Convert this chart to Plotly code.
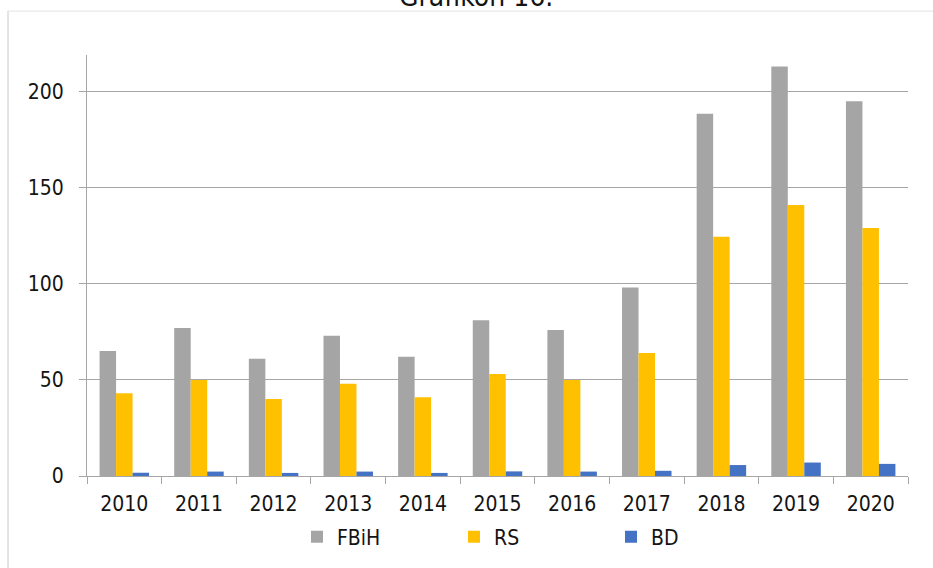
import plotly.graph_objects as go

# Values per year for the three entities
years = ["2010", "2011", "2012", "2013", "2014", "2015", "2016", "2017", "2018", "2019", "2020"]
fbih = [65, 77, 61, 73, 62, 81, 76, 98, 188.5, 213, 195]
rs = [43, 50, 40, 48, 41, 53, 50, 64, 124.5, 141, 129]
bd = [1.7, 2.3, 1.6, 2.3, 1.6, 2.4, 2.3, 2.7, 5.7, 7.0, 6.3]

series_names = ["FBiH", "RS", "BD"]
series_colors = ["#a5a5a5", "#ffc000", "#4472c4"]

W, H = 933, 568
L, R, T, B = 87, 25, 55, 91
PW, PH = W - L - R, H - T - B

FONT = "DejaVu Sans Condensed, DejaVu Sans, sans-serif"
AXIS_GRAY = "#a6a6a6"
TEXT = "#141414"


def px_x(px):
    return (px - L) / PW


def px_y(py):
    return (H - B - py) / PH


fig = go.Figure()
for name, vals, color in zip(series_names, [fbih, rs, bd], series_colors):
    fig.add_trace(go.Bar(x=years, y=vals, name=name, marker=dict(color=color, line=dict(width=0))))

fig.update_layout(
    width=W,
    height=H,
    margin=dict(l=L, r=R, t=T, b=B, pad=0),
    paper_bgcolor="white",
    plot_bgcolor="white",
    barmode="group",
    bargap=0.337,
    bargroupgap=0,
    font=dict(family=FONT, size=21, color=TEXT),
    showlegend=True,
    legend=dict(
        orientation="h",
        x=px_x(297),
        xanchor="left",
        y=px_y(537),
        yanchor="middle",
        entrywidth=112,
        entrywidthmode="pixels",
        font=dict(family=FONT, size=21, color=TEXT),
        bgcolor="rgba(0,0,0,0)",
        traceorder="normal",
    ),
    xaxis=dict(
        type="category",
        showline=True,
        linecolor=AXIS_GRAY,
        linewidth=1,
        ticks="outside",
        tickson="boundaries",
        ticklen=7,
        tickcolor=AXIS_GRAY,
        ticklabelstandoff=9,
        showgrid=False,
        tickfont=dict(family=FONT, size=21, color=TEXT),
    ),
    yaxis=dict(
        range=[0, 219],
        tickvals=[0, 50, 100, 150, 200],
        showline=True,
        linecolor=AXIS_GRAY,
        linewidth=1,
        ticks="outside",
        ticklen=7,
        tickcolor=AXIS_GRAY,
        ticklabelstandoff=11,
        showgrid=True,
        gridcolor=AXIS_GRAY,
        gridwidth=1,
        zeroline=False,
        tickfont=dict(family=FONT, size=21, color=TEXT),
    ),
)

# Outer chart frame (left and top edges)
fig.add_shape(type="line", xref="paper", yref="paper",
              x0=px_x(8), x1=px_x(8), y0=px_y(11), y1=px_y(H + 5),
              line=dict(color="#c8c8c8", width=1))
fig.add_shape(type="line", xref="paper", yref="paper",
              x0=px_x(8), x1=px_x(W + 5), y0=px_y(11), y1=px_y(11),
              line=dict(color="#e3e3e3", width=1))

# Chart caption above the frame
fig.add_annotation(
    text="Grafikon 16.",
    xref="paper", yref="paper",
    x=px_x(476), y=px_y(-4),
    xanchor="center", yanchor="middle",
    showarrow=False,
    font=dict(family=FONT, size=28, color=TEXT),
)

fig.write_html("out.html")
